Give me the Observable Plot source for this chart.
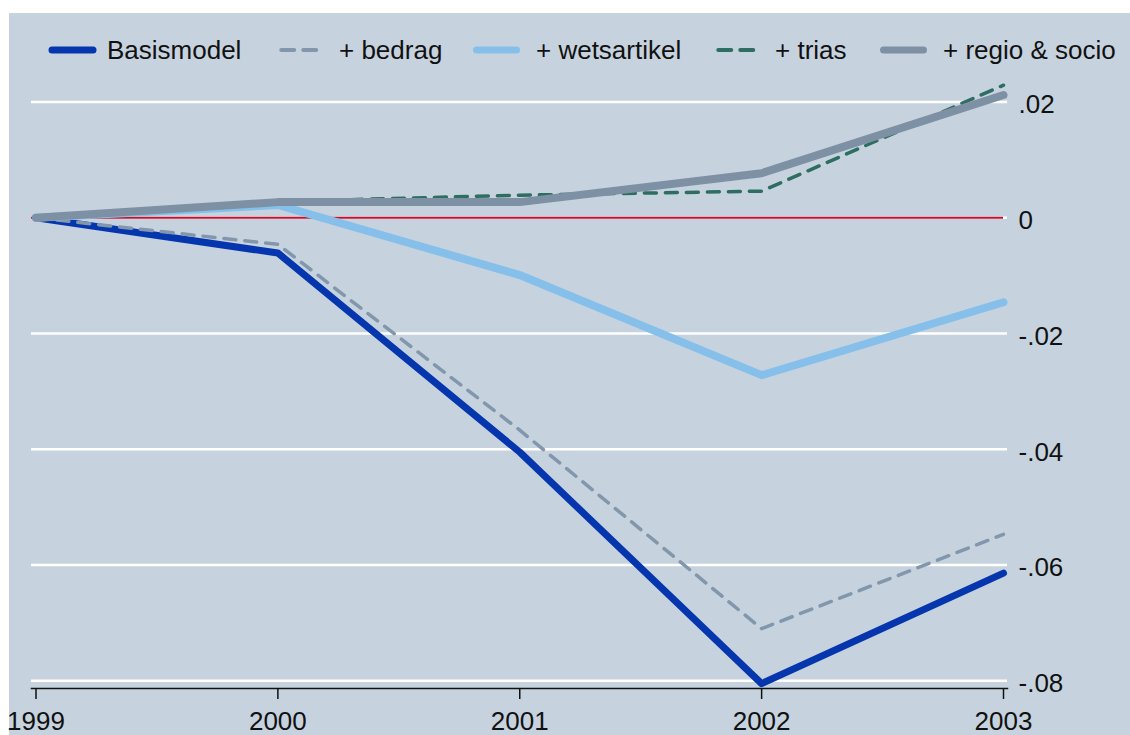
<!DOCTYPE html>
<html>
<head>
<meta charset="utf-8">
<script src="https://cdn.jsdelivr.net/npm/d3@7"></script>
<script src="https://cdn.jsdelivr.net/npm/@observablehq/plot@0.6"></script>
<style>
  html, body { margin: 0; padding: 0; background: #ffffff; overflow: hidden; width: 1130px; height: 735px; }
  #wrap { position: absolute; left: 9px; top: 13px; width: 1121px; height: 722px; background: #c6d3df; overflow: visible;
          font-family: "Liberation Sans", Arial, sans-serif; }
  #legend { position: absolute; left: 0; top: 0; width: 1121px; height: 72px; }
  .item { position: absolute; top: 17px; height: 40px; display: flex; align-items: center; white-space: nowrap; }
  .item span { font-size: 26px; color: #111; }
  #chart { position: absolute; left: 0; top: 72px; }
</style>
</head>
<body>
<div id="wrap">
  <div id="legend"></div>
  <div id="chart"></div>
</div>
<script>
// ---- data ----
const years = [1999, 2000, 2001, 2002, 2003];
const seriesNames = ["Basismodel", "+ bedrag", "+ wetsartikel", "+ trias", "+ regio & socio"];
const basismodel  = [0, -0.0061, -0.0405, -0.0805, -0.0614];
const bedrag      = [0, -0.0046, -0.0367, -0.0710, -0.0547];
const wetsartikel = [0,  0.0022, -0.0099, -0.0272, -0.0146];
const trias       = [0,  0.0028,  0.0039,  0.0046,  0.0229];
const regioSocio  = [0,  0.0027,  0.0027,  0.0077,  0.0212];
const yTicks = [0.02, 0, -0.02, -0.04, -0.06, -0.08];

// ---- styles ----
const styles = [
  {stroke: "#0536ad", strokeWidth: 7, dash: null},
  {stroke: "#8297ac", strokeWidth: 3.5, dash: "12,9"},
  {stroke: "#86c0ea", strokeWidth: 8, dash: null},
  {stroke: "#2e6e60", strokeWidth: 3.5, dash: "12,9"},
  {stroke: "#7e90a4", strokeWidth: 8, dash: null}
];
const allValues = [basismodel, bedrag, wetsartikel, trias, regioSocio];
const table = seriesNames.map((name, i) => years.map((year, j) => ({series: name, year, value: allValues[i][j]})));

// ---- legend ----
const legendLefts = [39, 270, 463, 707, 870];
const legendTextGap = [10, 20, 15, 19, 15];
const legend = document.getElementById("legend");
seriesNames.forEach((name, i) => {
  const s = styles[i];
  const item = document.createElement("div");
  item.className = "item";
  item.style.left = legendLefts[i] + "px";
  const w = s.dash ? 40 : 49;
  const sw = d3.create("svg").attr("width", w).attr("height", 12).style("margin-right", legendTextGap[i] + "px");
  sw.append("line").attr("x1", s.strokeWidth / 2 + 0.5).attr("x2", w - s.strokeWidth / 2 - 0.5).attr("y1", 6).attr("y2", 6)
    .attr("stroke", s.stroke).attr("stroke-width", s.dash ? 4 : 7).attr("stroke-linecap", "round")
    .attr("stroke-dasharray", s.dash ? "13,9" : null);
  item.appendChild(sw.node());
  const t = document.createElement("span");
  t.textContent = name;
  item.appendChild(t);
  legend.appendChild(item);
});

// ---- chart ----
const fmt = d => d === 0 ? "0" : (d < 0 ? "-" : "") + d3.format(".2f")(Math.abs(d)).replace(/^0/, "");
const lineMarks = table.map((rows, i) => Plot.line(rows, {
  x: "year", y: "value",
  stroke: styles[i].stroke,
  strokeWidth: styles[i].strokeWidth,
  strokeDasharray: styles[i].dash || undefined,
  strokeLinecap: "round",
  strokeLinejoin: "round"
}));

const plot = Plot.plot({
  width: 1121,
  height: 650,
  marginLeft: 22,
  marginRight: 123,
  marginTop: 10,
  marginBottom: 47,
  style: {background: "transparent", fontFamily: "'Liberation Sans', Arial, sans-serif", fontSize: "26px", color: "#111", overflow: "visible"},
  x: {domain: [1999, 2003], insetLeft: 4.5, insetRight: 4, label: null},
  y: {domain: [-0.08, 0.02], range: [595.25, 16.5], label: null},
  marks: [
    Plot.gridY(yTicks, {stroke: "#ffffff", strokeOpacity: 1, strokeWidth: 2.5}),
    Plot.ruleY([0], {stroke: "#c8102e", strokeWidth: 2, insetRight: 4}),
    ...lineMarks,
    Plot.frame({anchor: "bottom", stroke: "#111", strokeWidth: 1.5}),
    Plot.axisX(years, {tickSize: 11, tickPadding: 12, tickFormat: d => String(d), fontSize: 26, stroke: "#111", strokeWidth: 1.5, label: null}),
    Plot.axisY(yTicks, {anchor: "right", tickSize: 0, tickPadding: 11, dy: 3, tickFormat: fmt, fontSize: 26, label: null})
  ]
});
document.getElementById("chart").appendChild(plot);
</script>
</body>
</html>
